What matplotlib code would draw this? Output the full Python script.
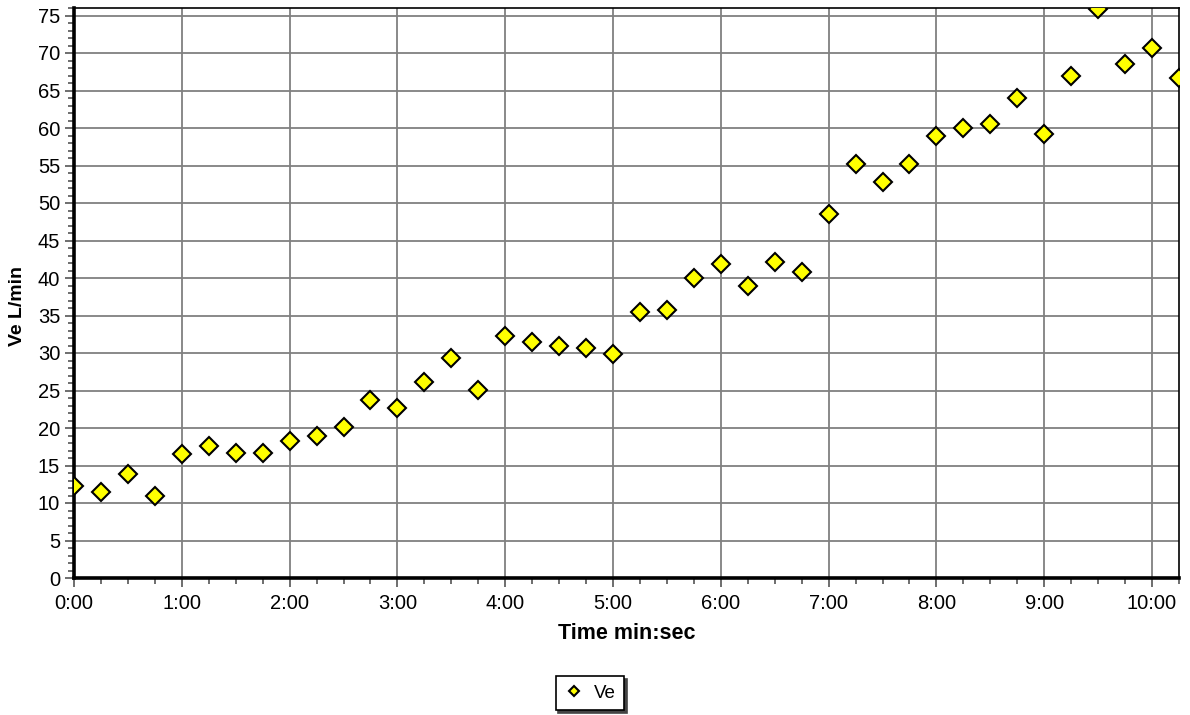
import matplotlib
matplotlib.use("Agg")
import matplotlib.pyplot as plt
from matplotlib.ticker import MultipleLocator, FuncFormatter

plt.rcParams['font.family'] = ['Liberation Sans', 'DejaVu Sans']

# elapsed time in seconds, one sample every 15 s
time_sec = [0, 15, 30, 45, 60, 75, 90, 105, 120, 135, 150, 165, 180, 195, 210, 225,
            240, 255, 270, 285, 300, 315, 330, 345, 360, 375, 390, 405, 420, 435,
            450, 465, 480, 495, 510, 525, 540, 555, 570, 585, 600, 615]
ve_values = [12.3, 11.5, 13.9, 10.9, 16.5, 17.6, 16.7, 16.7, 18.3, 18.9, 20.2, 23.8,
             22.7, 26.1, 29.3, 25.1, 32.3, 31.5, 31.0, 30.7, 29.9, 35.5, 35.7, 40.0,
             41.9, 38.9, 42.1, 40.8, 48.5, 55.2, 52.8, 55.2, 58.9, 60.0, 60.5, 64.0,
             59.2, 66.9, 75.9, 68.6, 70.7, 66.7]
series_name = "Ve"
x_label = "Time min:sec"
y_label = "Ve L/min"

time_min = [t / 60.0 for t in time_sec]


def min_sec(v, pos):
    total = int(round(v * 60))
    return f"{total // 60}:{total % 60:02d}"


fig = plt.figure(figsize=(11.9, 7.15), dpi=100)
ax = fig.add_axes([74 / 1190, 1 - 578 / 715, (1179 - 74) / 1190, (578 - 8) / 715])

ax.plot(time_min, ve_values, linestyle='none', marker='D', markersize=9.3,
        markerfacecolor='#ffff00', markeredgecolor='black', markeredgewidth=1.5,
        label=series_name, clip_on=True, zorder=3)

ax.set_xlim(0, 10.25)
ax.set_ylim(0, 76)
ax.xaxis.set_major_locator(MultipleLocator(1))
ax.xaxis.set_minor_locator(MultipleLocator(0.25))
ax.xaxis.set_major_formatter(FuncFormatter(min_sec))
ax.yaxis.set_major_locator(MultipleLocator(5))
ax.yaxis.set_minor_locator(MultipleLocator(1))

ax.grid(which='major', color='#808080', linewidth=1.3, zorder=1)
ax.set_axisbelow(True)

ax.tick_params(which='major', length=6.5, width=1.2, color='#555555', labelsize=14.5, pad=3.5)
ax.tick_params(axis='x', which='major', pad=5)
ax.tick_params(which='minor', length=4, width=1.2, color='#555555')

for side in ['left', 'bottom']:
    ax.spines[side].set_linewidth(2.6)
for side in ['top', 'right']:
    ax.spines[side].set_linewidth(1.2)

ax.set_xlabel(x_label, fontsize=15.5, fontweight='bold', labelpad=7.5)
ax.set_ylabel(y_label, fontsize=14, fontweight='bold')
ax.yaxis.set_label_coords(-0.043, 0.478)

leg = fig.legend(loc='center', bbox_to_anchor=(590 / 1190, 1 - 693 / 715), fontsize=13.5,
                 frameon=True, fancybox=False, shadow={'color': '#444444', 'alpha': 1.0},
                 edgecolor='black', handletextpad=0.5, markerscale=0.5,
                 borderpad=0.45, handlelength=1.1)
leg.get_frame().set_linewidth(1.2)

fig.savefig("out.png", dpi=100)
